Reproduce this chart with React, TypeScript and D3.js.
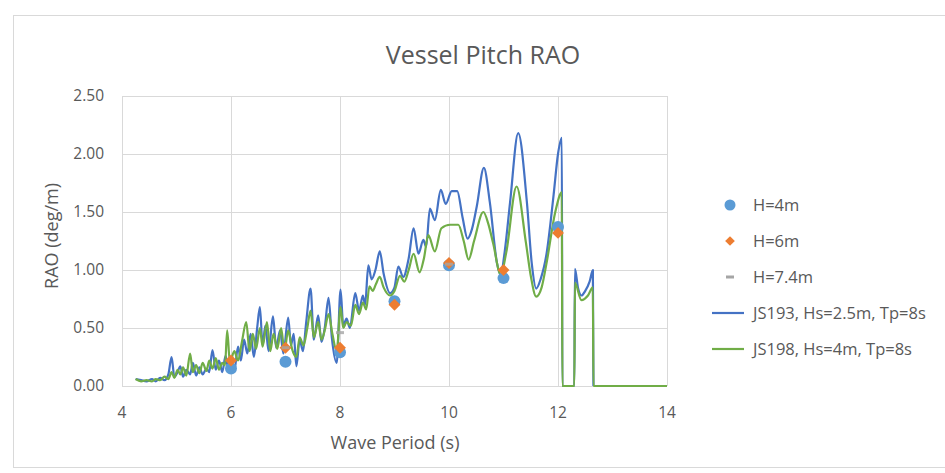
import React, { useRef, useEffect } from "react";
import * as d3 from "d3";

// wave period (s) / RAO (deg/m)
const js193: [number, number][] = [
  [4.25, 0.06], [4.35, 0.05], [4.45, 0.04], [4.55, 0.06], [4.62, 0.04], [4.7, 0.07],
  [4.78, 0.05], [4.85, 0.1], [4.91, 0.25], [4.96, 0.08], [5.02, 0.12], [5.07, 0.17],
  [5.12, 0.08], [5.18, 0.14], [5.25, 0.1], [5.3, 0.2], [5.36, 0.09], [5.42, 0.16],
  [5.48, 0.1], [5.55, 0.15], [5.6, 0.12], [5.66, 0.31], [5.72, 0.14], [5.78, 0.22],
  [5.84, 0.12], [5.9, 0.26], [5.95, 0.15], [6.0, 0.18], [6.06, 0.13], [6.13, 0.34],
  [6.18, 0.22], [6.24, 0.4], [6.3, 0.28], [6.36, 0.45], [6.42, 0.25], [6.48, 0.5],
  [6.53, 0.68], [6.58, 0.35], [6.63, 0.52], [6.69, 0.3], [6.77, 0.6], [6.83, 0.33],
  [6.9, 0.48], [6.96, 0.28], [7.05, 0.59], [7.1, 0.35], [7.15, 0.45], [7.2, 0.17],
  [7.26, 0.4], [7.32, 0.3], [7.38, 0.55], [7.46, 0.84], [7.52, 0.4], [7.6, 0.61],
  [7.66, 0.38], [7.72, 0.5], [7.79, 0.76], [7.85, 0.42], [7.94, 0.2], [8.01, 0.83],
  [8.06, 0.52], [8.12, 0.58], [8.18, 0.5], [8.28, 0.8], [8.35, 0.65], [8.42, 0.78],
  [8.46, 0.7], [8.52, 1.04], [8.58, 0.92], [8.65, 1.0], [8.73, 1.16], [8.8, 0.97],
  [8.92, 0.8], [9.0, 0.85], [9.07, 1.03], [9.16, 0.94], [9.26, 1.1], [9.35, 1.36],
  [9.44, 1.14], [9.53, 1.26], [9.58, 1.2], [9.65, 1.53], [9.74, 1.43], [9.85, 1.69],
  [9.94, 1.57], [10.05, 1.68], [10.15, 1.68], [10.25, 1.45], [10.34, 1.27], [10.42, 1.35],
  [10.51, 1.55], [10.64, 1.88], [10.75, 1.58], [10.88, 1.06], [10.95, 0.96], [11.02, 1.15],
  [11.12, 1.58], [11.27, 2.18], [11.43, 1.58], [11.52, 1.05], [11.6, 0.84], [11.68, 0.92],
  [11.79, 1.14], [11.92, 1.65], [12.0, 2.0], [12.07, 2.14], [12.08, 0.0], [12.3, 0.0],
  [12.31, 1.01], [12.37, 0.84], [12.43, 0.78], [12.5, 0.82], [12.58, 0.9], [12.64, 1.0],
  [12.65, 0.0],
];

const js198: [number, number][] = [
  [4.25, 0.06], [4.35, 0.04], [4.45, 0.05], [4.55, 0.04], [4.62, 0.06], [4.7, 0.05],
  [4.78, 0.08], [4.85, 0.06], [4.91, 0.12], [4.96, 0.07], [5.02, 0.14], [5.07, 0.1],
  [5.12, 0.16], [5.18, 0.09], [5.25, 0.28], [5.3, 0.12], [5.36, 0.18], [5.42, 0.11],
  [5.48, 0.2], [5.55, 0.13], [5.6, 0.22], [5.66, 0.15], [5.72, 0.24], [5.78, 0.14],
  [5.84, 0.2], [5.89, 0.18], [5.93, 0.48], [5.98, 0.2], [6.06, 0.3], [6.13, 0.22],
  [6.2, 0.38], [6.28, 0.55], [6.34, 0.3], [6.4, 0.45], [6.46, 0.32], [6.53, 0.5],
  [6.58, 0.34], [6.66, 0.55], [6.72, 0.3], [6.78, 0.45], [6.85, 0.32], [6.92, 0.5],
  [6.98, 0.3], [7.05, 0.48], [7.12, 0.32], [7.2, 0.25], [7.26, 0.42], [7.33, 0.35],
  [7.4, 0.5], [7.46, 0.65], [7.52, 0.42], [7.6, 0.55], [7.66, 0.4], [7.72, 0.48],
  [7.79, 0.62], [7.86, 0.45], [7.94, 0.3], [8.01, 0.68], [8.06, 0.5], [8.12, 0.55],
  [8.2, 0.52], [8.28, 0.7], [8.35, 0.62], [8.42, 0.72], [8.48, 0.66], [8.54, 0.86],
  [8.6, 0.82], [8.66, 0.88], [8.73, 0.94], [8.8, 0.85], [8.92, 0.78], [9.0, 0.82],
  [9.1, 0.95], [9.18, 0.9], [9.26, 1.0], [9.35, 1.14], [9.46, 0.98], [9.54, 1.1],
  [9.62, 1.3], [9.74, 1.16], [9.86, 1.36], [10.02, 1.39], [10.17, 1.39], [10.27, 1.25],
  [10.36, 1.09], [10.46, 1.25], [10.63, 1.5], [10.72, 1.4], [10.81, 1.23], [10.95, 0.96],
  [11.05, 1.15], [11.24, 1.72], [11.41, 1.24], [11.5, 0.95], [11.6, 0.77], [11.7, 0.85],
  [11.79, 1.06], [11.95, 1.5], [12.07, 1.67], [12.08, 0.0], [12.3, 0.0], [12.31, 0.89],
  [12.43, 0.74], [12.55, 0.78], [12.64, 0.85], [12.65, 0.0], [14.0, 0.0],
];

const h4m: [number, number][] = [
  [6, 0.15], [7, 0.21], [8, 0.29], [9, 0.73], [10, 1.04], [11, 0.93], [12, 1.37],
];
const h6m: [number, number][] = [
  [6, 0.22], [7, 0.33], [8, 0.33], [9, 0.7], [10, 1.06], [11, 1.0], [12, 1.32],
];
const h74m: [number, number][] = [[7, 0.33], [8, 0.46], [10, 1.05]];

const xTicks = [4, 6, 8, 10, 12, 14];
const yTicks = [0, 0.5, 1.0, 1.5, 2.0, 2.5];

const legendItems = [
  { label: "H=4m", kind: "circle", color: "#5B9BD5" },
  { label: "H=6m", kind: "diamond", color: "#ED7D31" },
  { label: "H=7.4m", kind: "dash", color: "#A5A5A5" },
  { label: "JS193, Hs=2.5m, Tp=8s", kind: "line", color: "#4472C4" },
  { label: "JS198, Hs=4m, Tp=8s", kind: "line", color: "#70AD47" },
];

const FONT = "'Open Sans', 'Liberation Sans', sans-serif";
const TXT = "#595959";

const App = () => {
  const svgRef = useRef(null);

  useEffect(() => {
    const svg = d3.select(svgRef.current);
    const width = 945;
    const height = 473;
    svg.attr("width", width).attr("height", height);
    svg.selectAll("*").remove();

    svg.append("rect").attr("width", width).attr("height", height).attr("fill", "#fff");
    // chart frame
    svg
      .append("rect")
      .attr("x", 13.5)
      .attr("y", 15.5)
      .attr("width", 960)
      .attr("height", 452)
      .attr("fill", "none")
      .attr("stroke", "#D9D9D9");

    const x = d3.scaleLinear().domain([4, 14]).range([122, 667]);
    const y = d3.scaleLinear().domain([0, 2.5]).range([386, 96]);

    // grid
    const grid = svg.append("g").attr("stroke", "#D9D9D9").attr("stroke-width", 1);
    grid
      .selectAll("line.h")
      .data(yTicks)
      .enter()
      .append("line")
      .attr("x1", x(4))
      .attr("x2", x(14))
      .attr("y1", (d) => Math.round(y(d)) + 0.5)
      .attr("y2", (d) => Math.round(y(d)) + 0.5);
    grid
      .selectAll("line.v")
      .data(xTicks)
      .enter()
      .append("line")
      .attr("y1", y(0))
      .attr("y2", y(2.5))
      .attr("x1", (d) => Math.round(x(d)) + 0.5)
      .attr("x2", (d) => Math.round(x(d)) + 0.5);

    // tick labels
    svg
      .append("g")
      .selectAll("text")
      .data(yTicks)
      .enter()
      .append("text")
      .attr("x", 104)
      .attr("y", (d) => y(d))
      .attr("dy", "0.35em")
      .attr("text-anchor", "end")
      .attr("font-family", FONT)
      .attr("font-size", 15.5)
      .attr("fill", TXT)
      .text((d) => d3.format(".2f")(d));
    svg
      .append("g")
      .selectAll("text")
      .data(xTicks)
      .enter()
      .append("text")
      .attr("x", (d) => x(d))
      .attr("y", 413)
      .attr("dy", "0.35em")
      .attr("text-anchor", "middle")
      .attr("font-family", FONT)
      .attr("font-size", 15.5)
      .attr("fill", TXT)
      .text((d) => d);

    // titles
    svg
      .append("text")
      .attr("x", 483)
      .attr("y", 55)
      .attr("dy", "0.35em")
      .attr("text-anchor", "middle")
      .attr("font-family", FONT)
      .attr("font-size", 25)
      .attr("fill", TXT)
      .text("Vessel Pitch RAO");
    svg
      .append("text")
      .attr("x", 395)
      .attr("y", 443)
      .attr("dy", "0.35em")
      .attr("text-anchor", "middle")
      .attr("font-family", FONT)
      .attr("font-size", 18)
      .attr("fill", TXT)
      .text("Wave Period (s)");
    svg
      .append("text")
      .attr("transform", "translate(52,236) rotate(-90)")
      .attr("dy", "0.35em")
      .attr("text-anchor", "middle")
      .attr("font-family", FONT)
      .attr("font-size", 18)
      .attr("fill", TXT)
      .text("RAO (deg/m)");

    // lines
    const line = d3
      .line()
      .x((d) => x(d[0]))
      .y((d) => y(d[1]))
      .curve(d3.curveMonotoneX);
    svg
      .append("path")
      .datum(js193)
      .attr("d", line)
      .attr("fill", "none")
      .attr("stroke", "#4472C4")
      .attr("stroke-width", 2.2)
      .attr("stroke-linejoin", "round");
    svg
      .append("path")
      .datum(js198)
      .attr("d", line)
      .attr("fill", "none")
      .attr("stroke", "#70AD47")
      .attr("stroke-width", 2.2)
      .attr("stroke-linejoin", "round");

    // scatter markers
    svg
      .append("g")
      .selectAll("circle")
      .data(h4m)
      .enter()
      .append("circle")
      .attr("cx", (d) => x(d[0]))
      .attr("cy", (d) => y(d[1]))
      .attr("r", 6)
      .attr("fill", "#5B9BD5");
    const diamond = d3.symbol().type(d3.symbolDiamond2).size(90);
    svg
      .append("g")
      .selectAll("path")
      .data(h6m)
      .enter()
      .append("path")
      .attr("transform", (d) => `translate(${x(d[0])},${y(d[1])})`)
      .attr("d", diamond)
      .attr("fill", "#ED7D31");
    svg
      .append("g")
      .selectAll("rect")
      .data(h74m)
      .enter()
      .append("rect")
      .attr("x", (d) => x(d[0]) - 4)
      .attr("y", (d) => y(d[1]) - 1.5)
      .attr("width", 8)
      .attr("height", 3)
      .attr("fill", "#A5A5A5")
      .attr("opacity", 0.8);

    // legend
    const lg = svg
      .append("g")
      .selectAll("g")
      .data(legendItems)
      .enter()
      .append("g")
      .attr("transform", (d, i) => `translate(730,${205 + i * 36})`);
    lg.each(function (d) {
      const g = d3.select(this);
      if (d.kind === "circle") g.append("circle").attr("r", 5.5).attr("fill", d.color);
      if (d.kind === "diamond")
        g.append("path").attr("d", d3.symbol().type(d3.symbolDiamond2).size(60)).attr("fill", d.color);
      if (d.kind === "dash")
        g.append("rect").attr("x", -4).attr("y", -1.5).attr("width", 8).attr("height", 3).attr("fill", d.color);
      if (d.kind === "line")
        g.append("line").attr("x1", -18).attr("x2", 14).attr("stroke", d.color).attr("stroke-width", 2.2);
    });
    lg.append("text")
      .attr("x", 23)
      .attr("dy", "0.35em")
      .attr("font-family", FONT)
      .attr("font-size", 16.5)
      .attr("fill", TXT)
      .text((d) => d.label);
  }, []);

  return <svg ref={svgRef} style={{ position: "fixed", left: 0, top: 0 }} />;
};

export default App;
